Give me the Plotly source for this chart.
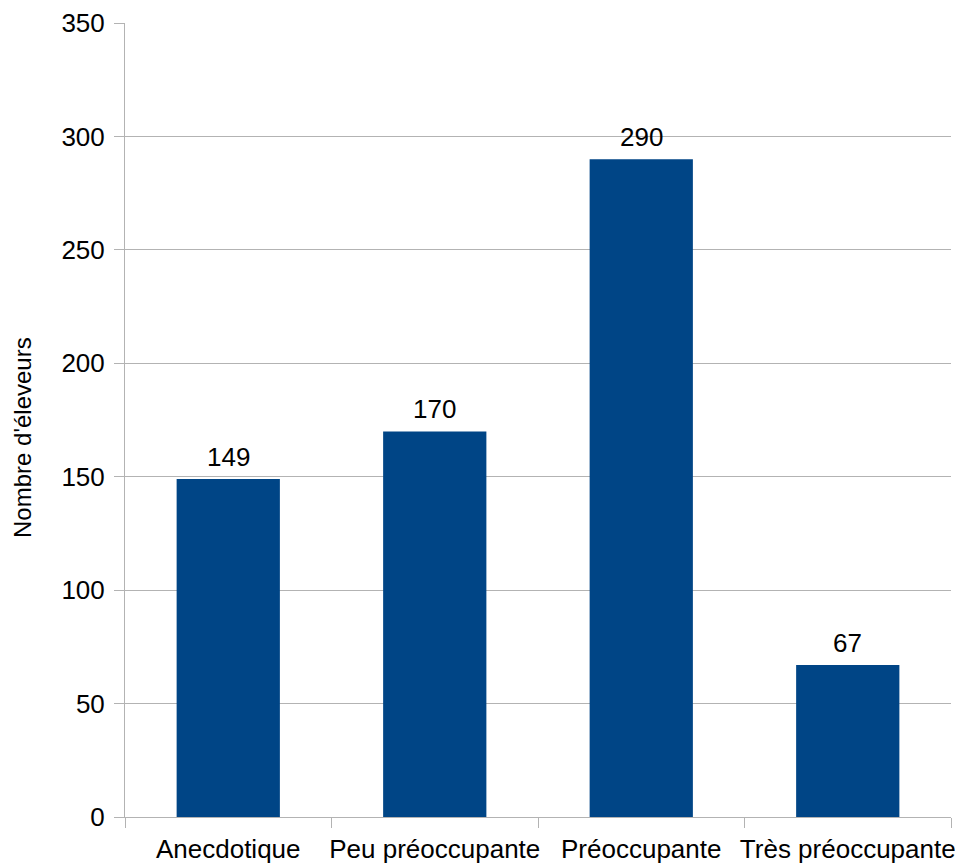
import plotly.graph_objects as go

categories = ["Anecdotique", "Peu préoccupante", "Préoccupante", "Très préoccupante"]
values = [149, 170, 290, 67]
y_title = "Nombre d'éleveurs"

grid = "#b3b3b3"
font = "Liberation Sans, Arial, sans-serif"

fig = go.Figure(go.Bar(
    x=categories, y=values, width=0.5,
    marker=dict(color="#004586", line=dict(width=0)),
    cliponaxis=False,
))

for c, v in zip(categories, values):
    fig.add_annotation(x=c, y=v, text=str(v), showarrow=False,
                       yanchor="bottom", yshift=5,
                       font=dict(size=26, color="#000000", family=font))

fig.add_annotation(xref="paper", yref="paper", x=-0.1235, y=0.4786,
                   xanchor="center", yanchor="middle", textangle=-90,
                   text=y_title, showarrow=False,
                   font=dict(size=24, color="#000000", family=font))

fig.update_layout(
    width=963, height=864,
    margin=dict(l=117, r=20, t=15, b=55),
    paper_bgcolor="white", plot_bgcolor="white",
    font=dict(family=font, color="#000000"),
    showlegend=False,
)
fig.update_xaxes(
    showline=True, linecolor=grid, linewidth=1,
    ticks="outside", tickson="boundaries", ticklen=10, tickcolor=grid,
    ticklabelstandoff=9,
    tickfont=dict(size=26), showgrid=False, tickangle=0, automargin=False,
)
fig.update_yaxes(
    range=[0, 350.05], tickvals=[0, 50, 100, 150, 200, 250, 300, 350],
    showgrid=True, gridcolor=grid, gridwidth=1,
    showline=True, linecolor=grid, linewidth=1,
    ticks="outside", ticklen=10, tickcolor=grid, ticklabelstandoff=4,
    tickfont=dict(size=26), zeroline=False, automargin=False,
)

fig.write_html("out.html")
